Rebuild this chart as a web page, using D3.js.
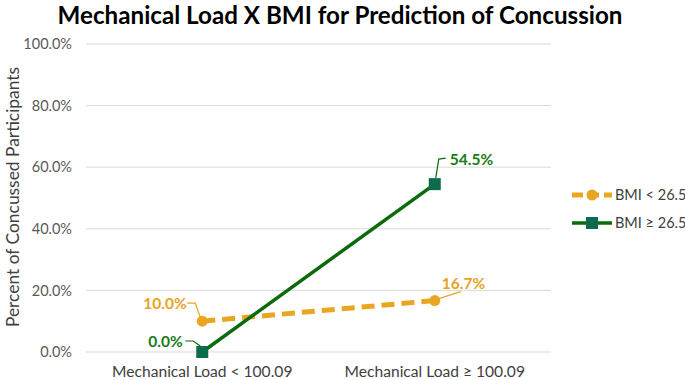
<!DOCTYPE html>
<html><head><meta charset="utf-8">
<script src="https://cdn.jsdelivr.net/npm/d3@7"></script>
<style>body{margin:0;background:#fff;} svg{display:block;font-family:Lato, "Open Sans", sans-serif;}</style>
</head><body>
<svg id="c" width="685" height="380"></svg>
<script>
const categories = ["Mechanical Load < 100.09", "Mechanical Load \u2265 100.09"];
const seriesNames = ["BMI < 26.5", "BMI \u2265 26.5"];
const bmiLow = [0.100, 0.167];
const bmiHigh = [0.000, 0.545];
const yTicks = [0, 0.2, 0.4, 0.6, 0.8, 1.0];
const title = "Mechanical Load X BMI for Prediction of Concussion";
const yTitle = "Percent of Concussed Participants";

const svg = d3.select("#c");
const m = {l:86, r:551, t:44, b:352};
const x = d3.scaleBand().domain(categories).range([m.l, m.r]);
const y = d3.scaleLinear().domain([0,1]).range([m.b, m.t]);
const fmt = d3.format(".1%");
const orange = "#E9A620", green = "#0B6B0B", greenMk = "#0D6B4E";

svg.append("text").attr("x", 340).attr("y", 24).attr("text-anchor","middle")
  .attr("font-size", 24.2).attr("font-weight","bold").attr("fill","#000").text(title);

// gridlines
svg.append("g").selectAll("line").data(yTicks).join("line")
  .attr("x1", m.l).attr("x2", m.r).attr("y1", d=>y(d)).attr("y2", d=>y(d))
  .attr("stroke", "#d9d9d9").attr("stroke-width", 1);

const ya = svg.append("g").attr("transform", `translate(${m.l},0)`)
  .call(d3.axisLeft(y).tickValues(yTicks).tickFormat(fmt).tickSize(0).tickPadding(14));
ya.select(".domain").remove();
ya.selectAll("text").attr("font-size", 14.5).attr("fill","#595959").attr("font-family","Lato, sans-serif");

const xa = svg.append("g").attr("transform", `translate(0,${m.b})`)
  .call(d3.axisBottom(x).tickSize(0).tickPadding(14));
xa.select(".domain").remove();
xa.selectAll("text").attr("font-size", 15.6).attr("fill","#404040").attr("font-family","Lato, sans-serif");

svg.append("text").attr("transform", `translate(19,197) rotate(-90)`)
  .attr("text-anchor","middle").attr("font-size", 17.4).attr("fill","#404040").text(yTitle);

const cx = d => x(d) + x.bandwidth()/2;
const line = d3.line().x((d,i)=>cx(categories[i])).y(d=>y(d));

svg.append("path").datum(bmiLow).attr("d", line).attr("fill","none")
  .attr("stroke", orange).attr("stroke-width", 5).attr("stroke-dasharray","13,7");
svg.append("path").datum(bmiHigh).attr("d", line).attr("fill","none")
  .attr("stroke", green).attr("stroke-width", 3.5);

svg.append("g").selectAll("circle").data(bmiLow).join("circle")
  .attr("cx",(d,i)=>cx(categories[i])).attr("cy", d=>y(d)).attr("r", 5.5).attr("fill", orange);
svg.append("g").selectAll("rect").data(bmiHigh).join("rect")
  .attr("x",(d,i)=>cx(categories[i])-6).attr("y", d=>y(d)-6).attr("width",12).attr("height",12).attr("fill", greenMk);

// data labels with leader lines
const labelCfg = [
  {v:bmiLow[0], i:0, col:orange, tx:-59, ty:-18, path:(px,py)=>[[px-15,py-18],[px-7,py-18],[px-2,py-4]]},
  {v:bmiLow[1], i:1, col:orange, tx:7, ty:-17, path:(px,py)=>[[px+4,py-2],[px+26,py-9]]},
  {v:bmiHigh[0], i:0, col:green, tx:-54, ty:-10, path:(px,py)=>[[px-17,py-11],[px-9,py-11],[px-2,py-6]]},
  {v:bmiHigh[1], i:1, col:green, tx:15, ty:-25, path:(px,py)=>[[px+1,py-6],[px+4,py-25],[px+11,py-26]]}
];
const lg = svg.append("g");
labelCfg.forEach(c=>{
  const px = cx(categories[c.i]), py = y(c.v);
  lg.append("path").attr("d", d3.line()(c.path(px,py))).attr("fill","none").attr("stroke", c.col).attr("stroke-width",1.2);
  lg.append("text").attr("x", px + c.tx).attr("y", py + c.ty).attr("font-size", 15.5).attr("font-weight","bold")
    .attr("fill", c.col === orange ? "#E8A31E" : "#1A7A1A").attr("dy","0.35em").text(fmt(c.v));
});

// legend
const leg = svg.append("g");
const legY = [195, 223];
seriesNames.forEach((n,i)=>{
  const g = leg.append("g").attr("transform", `translate(0,${legY[i]})`);
  if (i===0) {
    g.append("line").attr("x1",572).attr("x2",612).attr("stroke",orange).attr("stroke-width",5).attr("stroke-dasharray","11,5");
    g.append("circle").attr("cx",592).attr("r",5.5).attr("fill",orange);
  } else {
    g.append("line").attr("x1",572).attr("x2",612).attr("stroke",green).attr("stroke-width",3.5);
    g.append("rect").attr("x",586).attr("y",-6).attr("width",12).attr("height",12).attr("fill",greenMk);
  }
  g.append("text").attr("x",615).attr("dy","0.35em").attr("font-size",14.5).attr("fill","#404040").text(n);
});
</script>
</body></html>
